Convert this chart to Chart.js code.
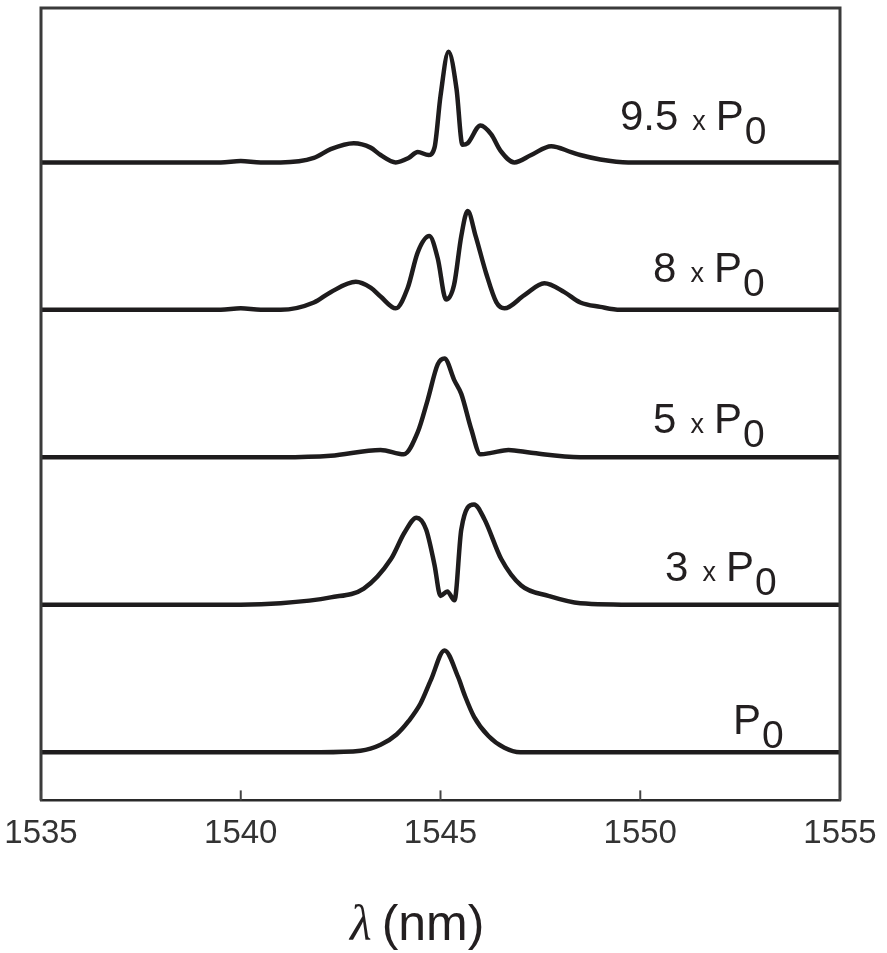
<!DOCTYPE html>
<html>
<head>
<meta charset="utf-8">
<script src="https://cdn.jsdelivr.net/npm/chart.js@4.4.1/dist/chart.umd.min.js"></script>
<style>
  html, body { margin: 0; padding: 0; background: #fff; }
  #wrap { width: 887px; height: 953px; position: relative; }
</style>
</head>
<body>
<div id="wrap"><canvas id="spectra"></canvas></div>
<script>
// wavelength axis
const xMin = 1535;
const xMax = 1555;
const xStep = 5;

// intensity (a.u.), one trace per pump power
const wlP0 = [1535, 1542.0, 1543.0, 1543.5, 1543.9, 1544.2, 1544.5, 1544.76, 1545.1, 1545.44, 1545.6, 1545.84, 1546.2, 1546.6, 1547.0, 1555];
const ampP0 = [0, 0, 0.01, 0.05, 0.12, 0.21, 0.33, 0.49, 0.69, 0.51, 0.39, 0.24, 0.11, 0.03, 0, 0];

const wl3 = [1535, 1540.0, 1541.0, 1542.25, 1543.08, 1543.76, 1544.1, 1544.4, 1544.64, 1544.85, 1545.0, 1545.17, 1545.35, 1545.52, 1545.84, 1546.1, 1546.52, 1547.02, 1547.7, 1548.5, 1550.0, 1555];
const amp3 = [0, 0, 0.01, 0.05, 0.11, 0.31, 0.49, 0.59, 0.51, 0.27, 0.06, 0.09, 0.03, 0.51, 0.68, 0.58, 0.31, 0.13, 0.06, 0.01, 0, 0];

const wl5 = [1535, 1541.0, 1542.25, 1543.5, 1544.08, 1544.43, 1544.68, 1544.93, 1545.1, 1545.35, 1545.52, 1545.77, 1546.0, 1546.27, 1546.7, 1547.27, 1548.5, 1555];
const amp5 = [0, 0, 0.01, 0.05, 0.02, 0.17, 0.39, 0.63, 0.67, 0.52, 0.43, 0.19, 0.02, 0.03, 0.05, 0.03, 0, 0];

const wl8 = [1535, 1539.5, 1540.0, 1540.5, 1541.0, 1541.83, 1542.25, 1542.88, 1543.25, 1543.5, 1543.88, 1544.18, 1544.43, 1544.72, 1544.93, 1545.14, 1545.34, 1545.52, 1545.68, 1545.88, 1546.14, 1546.4, 1546.6, 1547.1, 1547.6, 1548.1, 1548.5, 1549.0, 1549.5, 1555];
const amp8 = [0, 0, 0.01, 0, 0, 0.05, 0.12, 0.19, 0.15, 0.09, 0.01, 0.15, 0.39, 0.5, 0.35, 0.07, 0.17, 0.5, 0.67, 0.5, 0.25, 0.05, 0.01, 0.1, 0.18, 0.12, 0.05, 0.02, 0, 0];

const wl95 = [1535, 1539.5, 1540.0, 1540.5, 1541.0, 1541.83, 1542.25, 1542.83, 1543.25, 1543.5, 1543.88, 1544.2, 1544.43, 1544.7, 1544.85, 1545.0, 1545.2, 1545.4, 1545.55, 1545.68, 1546.0, 1546.27, 1546.5, 1546.85, 1547.27, 1547.77, 1548.27, 1548.5, 1549.0, 1549.7, 1555];
const amp95 = [0, 0, 0.01, 0, 0, 0.03, 0.09, 0.13, 0.1, 0.05, 0, 0.03, 0.07, 0.05, 0.1, 0.45, 0.75, 0.5, 0.12, 0.13, 0.25, 0.19, 0.08, 0, 0.05, 0.11, 0.07, 0.05, 0.02, 0, 0];

// power labels, bottom trace first
const powerNames = ['', '3', '5', '8', '9.5'];

const traces = [
  [wlP0, ampP0],
  [wl3, amp3],
  [wl5, amp5],
  [wl8, amp8],
  [wl95, amp95]
];

const ink = '#1e1c1d';

const datasets = traces.map((t, level) => ({
  label: powerNames[level] ? powerNames[level] + ' x P0' : 'P0',
  data: t[0].map((w, i) => ({ x: w, y: t[1][i] + level })),
  borderColor: ink,
  borderWidth: 4.5,
  pointRadius: 0,
  fill: false,
  cubicInterpolationMode: 'monotone'
}));

// where each "n x P0" tag sits: left edge (nm) and height above its trace
const tagX = [1552.32, 1550.62, 1550.32, 1550.32, 1549.49];
const tagY = [0.12, 0.16, 0.167, 0.187, 0.22];

const decor = {
  id: 'decor',
  afterDraw(chart) {
    const ctx = chart.ctx;
    const a = chart.chartArea;
    const xs = chart.scales.x;
    const ys = chart.scales.y;
    ctx.save();

    // frame (left, top, right)
    ctx.strokeStyle = '#3a3a3a';
    ctx.lineWidth = 3;
    ctx.beginPath();
    ctx.moveTo(a.left, a.bottom);
    ctx.lineTo(a.left, a.top);
    ctx.lineTo(a.right, a.top);
    ctx.lineTo(a.right, a.bottom);
    ctx.stroke();

    // inward tick marks
    ctx.lineWidth = 2;
    ctx.strokeStyle = '#444';
    xs.ticks.forEach(t => {
      const px = xs.getPixelForValue(t.value);
      ctx.beginPath();
      ctx.moveTo(px, a.bottom);
      ctx.lineTo(px, a.bottom - 10);
      ctx.stroke();
    });

    // trace tags
    ctx.fillStyle = '#231f20';
    ctx.textBaseline = 'alphabetic';
    ctx.textAlign = 'left';
    powerNames.forEach((name, level) => {
      let x = xs.getPixelForValue(tagX[level]);
      const y = ys.getPixelForValue(level + tagY[level]);
      if (name) {
        ctx.font = '42px "Liberation Sans", Arial, sans-serif';
        ctx.fillText(name, x, y);
        x += ctx.measureText(name).width + 14;
        ctx.font = '27px "Liberation Sans", Arial, sans-serif';
        ctx.fillText('x', x, y);
        x += ctx.measureText('x').width + 10;
      }
      ctx.font = '42px "Liberation Sans", Arial, sans-serif';
      ctx.fillText('P', x, y);
      x += ctx.measureText('P').width + 1;
      ctx.font = '39px "Liberation Sans", Arial, sans-serif';
      ctx.fillText('0', x, y + 14);
    });

    // axis title: italic lambda then (nm)
    const ty = 940;
    let sx = 350;
    ctx.font = 'italic 50px "Liberation Serif", "DejaVu Serif", serif';
    ctx.fillText('λ', sx, ty);
    sx += ctx.measureText('λ').width + 10;
    ctx.font = '50px "Liberation Sans", Arial, sans-serif';
    ctx.fillText('(nm)', sx, ty);

    ctx.restore();
  }
};

new Chart(document.getElementById('spectra'), {
  type: 'line',
  data: { datasets: datasets },
  options: {
    responsive: true,
    maintainAspectRatio: false,
    animation: false,
    layout: { padding: { left: 41, right: 47, top: 8, bottom: 85 } },
    plugins: {
      legend: { display: false },
      tooltip: { enabled: false }
    },
    scales: {
      x: {
        type: 'linear',
        min: xMin,
        max: xMax,
        afterFit(scale) {
          scale.paddingLeft = 0;
          scale.paddingRight = 0;
        },
        grid: { display: true, drawOnChartArea: false, drawTicks: false },
        border: { display: true, color: '#2a2a2a', width: 2.5 },
        ticks: {
          stepSize: xStep,
          padding: 14,
          color: '#333',
          font: { family: '"Liberation Sans", Arial, sans-serif', size: 33 },
          maxRotation: 0,
          callback: v => String(v)
        }
      },
      y: {
        display: false,
        min: -0.327,
        max: 5.047
      }
    }
  },
  plugins: [decor]
});
</script>
</body>
</html>
